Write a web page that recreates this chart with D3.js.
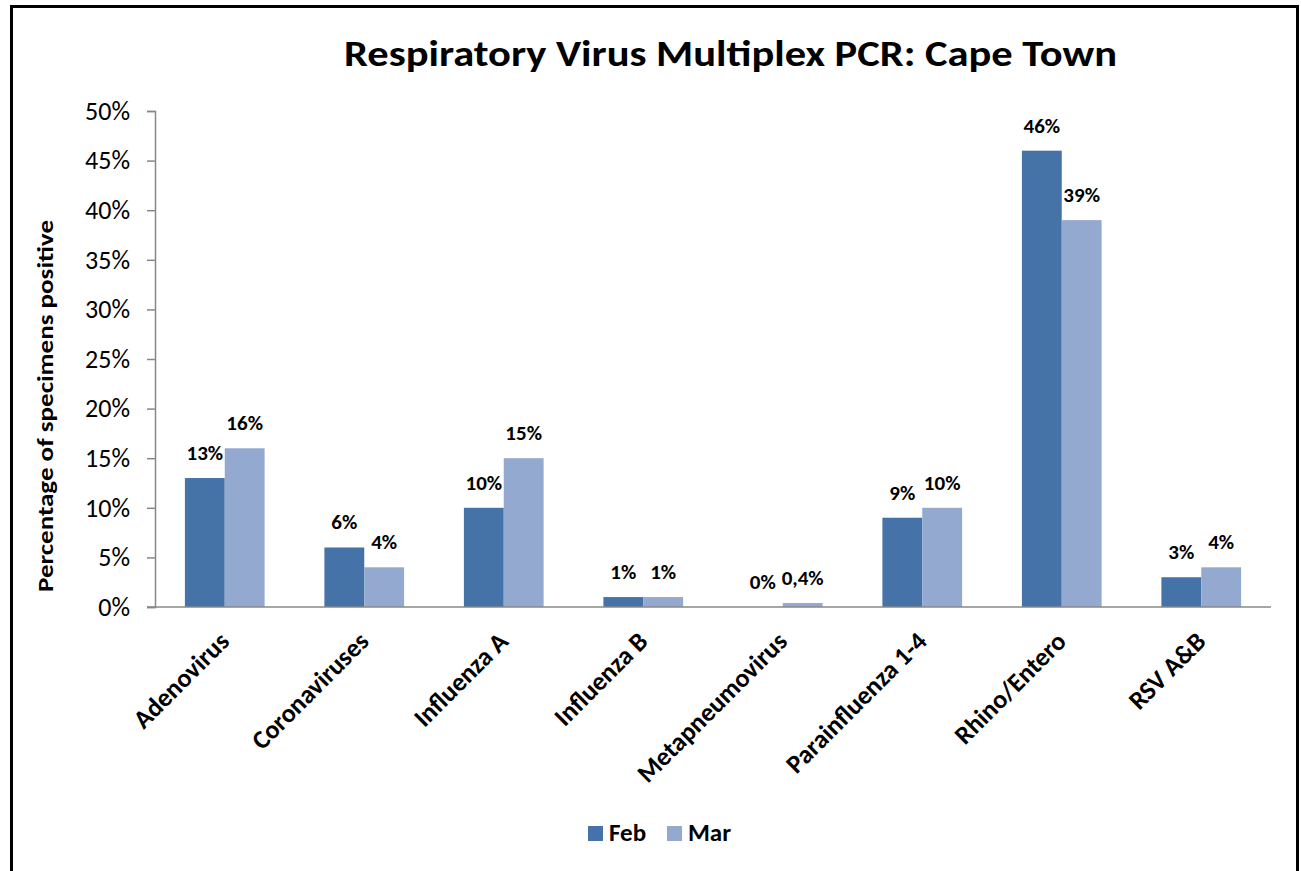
<!DOCTYPE html>
<html lang="en">
<head>
    <meta charset="UTF-8">
    <title>Respiratory Virus Multiplex PCR: Cape Town</title>
    <script src="https://d3js.org/d3.v7.min.js"></script>
    <style>
        body { margin: 0; background: #fff; }
        text { font-family: Carlito, Calibri, Lato, sans-serif; fill: #000; }
    </style>
</head>
<body>
    <script>
        // data
        const categories = ["Adenovirus", "Coronaviruses", "Influenza A", "Influenza B",
            "Metapneumovirus", "Parainfluenza 1-4", "Rhino/Entero", "RSV A&B"];
        const seriesNames = ["Feb", "Mar"];
        const febValues = [13, 6, 10, 1, 0, 9, 46, 3];
        const marValues = [16, 4, 15, 1, 0.4, 10, 39, 4];
        const febLabels = ["13%", "6%", "10%", "1%", "0%", "9%", "46%", "3%"];
        const marLabels = ["16%", "4%", "15%", "1%", "0,4%", "10%", "39%", "4%"];
        const yTicks = [0, 5, 10, 15, 20, 25, 30, 35, 40, 45, 50];
        const colors = ["#4572A7", "#93A9CF"];

        const width = 1301, height = 871;
        const plot = { left: 155, right: 1271, top: 111, bottom: 607 };

        const svg = d3.select("body").append("svg")
            .attr("width", width)
            .attr("height", height);

        // outer frame
        svg.append("rect")
            .attr("x", 11.5).attr("y", 6.5)
            .attr("width", 1286).attr("height", 900)
            .attr("fill", "none")
            .attr("stroke", "#000")
            .attr("stroke-width", 3);

        const x0 = d3.scaleBand()
            .domain(categories)
            .range([plot.left, plot.right]);

        // Excel gap width 150% -> two bars take 2/3.5 of the band
        const inner = x0.bandwidth() * 2 / 3.5;
        const x1 = d3.scaleBand()
            .domain(seriesNames)
            .range([0, inner]);

        const y = d3.scaleLinear()
            .domain([0, 50])
            .range([plot.bottom, plot.top]);

        // title (original is a bit wider than Calibri, so stretch it)
        svg.append("text")
            .attr("x", 344).attr("y", 66)
            .attr("font-size", 37)
            .attr("font-weight", "bold")
            .attr("textLength", 773)
            .attr("lengthAdjust", "spacingAndGlyphs")
            .text("Respiratory Virus Multiplex PCR: Cape Town");

        // y axis
        const yAxis = svg.append("g")
            .attr("transform", `translate(${plot.left},0)`)
            .call(d3.axisLeft(y).tickValues(yTicks).tickSize(8).tickPadding(17)
                .tickFormat(d => d + "%"));
        yAxis.select(".domain").attr("stroke", "#888").attr("stroke-width", 1.5);
        yAxis.selectAll(".tick line").attr("stroke", "#888").attr("stroke-width", 1.5);
        yAxis.selectAll(".tick text")
            .attr("font-size", 26)
            .attr("font-family", "Carlito, Calibri, Lato, sans-serif")
            .attr("fill", "#000");

        svg.append("text")
            .attr("transform", "translate(53,406) rotate(-90)")
            .attr("text-anchor", "middle")
            .attr("font-size", 23)
            .attr("font-weight", "bold")
            .attr("textLength", 372)
            .attr("lengthAdjust", "spacingAndGlyphs")
            .text("Percentage of specimens positive");

        // bars
        const series = [
            { name: "Feb", values: febValues, labels: febLabels, color: colors[0] },
            { name: "Mar", values: marValues, labels: marLabels, color: colors[1] }
        ];

        const groups = svg.append("g")
            .selectAll("g")
            .data(series)
            .join("g");

        groups.selectAll("rect")
            .data(s => s.values.map((v, i) => ({ s, v, i })))
            .join("rect")
            .attr("x", d => x0(categories[d.i]) + (x0.bandwidth() - inner) / 2 + x1(d.s.name))
            .attr("y", d => y(d.v))
            .attr("width", x1.bandwidth())
            .attr("height", d => y(0) - y(d.v))
            .attr("fill", d => d.s.color);

        groups.selectAll("text")
            .data(s => s.values.map((v, i) => ({ s, v, i })))
            .join("text")
            .attr("x", d => x0(categories[d.i]) + (x0.bandwidth() - inner) / 2 + x1(d.s.name) + x1.bandwidth() / 2)
            .attr("y", d => y(d.v) - 18)
            .attr("text-anchor", "middle")
            .attr("font-size", 21)
            .attr("font-weight", "bold")
            .text(d => d.s.labels[d.i]);

        // x axis
        svg.append("line")
            .attr("x1", plot.left - 8).attr("x2", plot.right)
            .attr("y1", y(0)).attr("y2", y(0))
            .attr("stroke", "#888")
            .attr("stroke-width", 1.5);

        svg.append("g")
            .selectAll("text")
            .data(categories)
            .join("text")
            .attr("transform", d => `translate(${x0(d) + x0.bandwidth() / 2 + 6},${plot.bottom + 36}) rotate(-45)`)
            .attr("text-anchor", "end")
            .attr("font-size", 26)
            .attr("font-weight", "bold")
            .text(d => d);

        // legend
        const legend = svg.append("g")
            .attr("transform", "translate(588,826)");
        const legendX = [0, 79];
        seriesNames.forEach((name, i) => {
            legend.append("rect")
                .attr("x", legendX[i]).attr("y", 0)
                .attr("width", 15).attr("height", 15)
                .attr("fill", colors[i]);
            legend.append("text")
                .attr("x", legendX[i] + 21).attr("y", 15)
                .attr("font-size", 25)
                .attr("font-weight", "bold")
                .text(name);
        });
    </script>
</body>
</html>
